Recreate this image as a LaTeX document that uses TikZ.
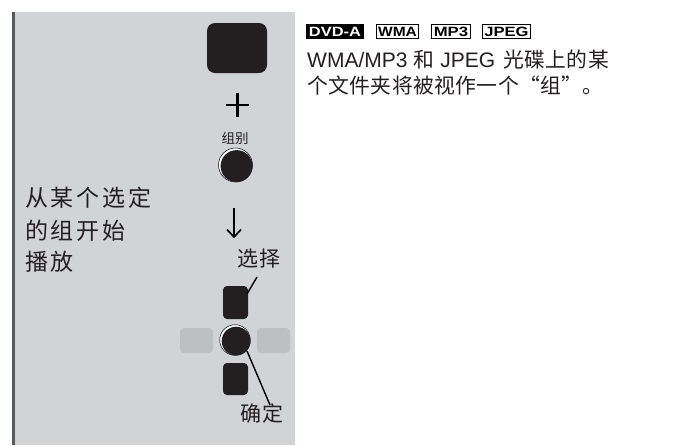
\documentclass[tikz,border=0pt]{standalone}
\usepackage{fontspec}
\setmainfont{Liberation Sans}
\newfontfamily\cjk{Noto Sans CJK SC}
\newfontfamily\cjkls{Noto Sans CJK SC}[LetterSpace=12]
\newfontfamily\cjkmid{Noto Sans CJK SC}[LetterSpace=8]
\newfontfamily\cjkr{Noto Sans CJK SC}[LetterSpace=2]
\definecolor{panel}{HTML}{D2D3D5}
\definecolor{sidebtn}{HTML}{BEBFC1}
\definecolor{btnblack}{HTML}{231F20}
\definecolor{edge}{HTML}{58595B}
\definecolor{txt}{HTML}{231F20}
\tikzset{
  blackbtn/.style={fill=btnblack, rounded corners=4pt},
  sidekey/.style={fill=sidebtn, rounded corners=4pt},
  badge/.style={draw=black, line width=1.5pt, fill=white, inner sep=0pt, minimum height=14pt, font=\fontsize{13.5}{13.5}\bfseries\selectfont, text=black},
  badgedark/.style={badge, fill=black, text=white},
  leader/.style={draw=black, line width=1.4pt},
  bodytext/.style={anchor=base west, inner sep=0pt, text=txt},
}
\begin{document}
\begin{tikzpicture}[x=1pt,y=-1pt]
\useasboundingbox (0,0) rectangle (682,445);
% panel
\fill[panel] (13,12) rectangle (295,445);
\draw[edge, line width=2.5pt] (13.5,12) -- (13.5,445);

% left caption
\node[bodytext] (l1) at (25,206) {\fontsize{23}{23}\cjkls 从某个选定};
\node[bodytext] (l2) at (25,239.5) {\fontsize{23}{23}\cjkls 的组开始};
\node[bodytext] (l3) at (25,270) {\fontsize{23}{23}\cjkls 播放};

% top black key
\fill[btnblack, rounded corners=8pt] (207,23) rectangle (267,73);
\node[inner sep=0pt] (topkey) at (237,48) {};

% plus
\draw[black, line width=2.2pt] (226,105) -- (249,105);
\draw[black, line width=2.2pt] (237.5,93) -- (237.5,117);
\coordinate (plus) at (237.5,105);

% group label and round button
\node[inner sep=0pt, text=txt] (grplabel) at (235,138) {\fontsize{13.5}{13.5}\cjk 组别};
\draw[black, line width=0.5pt, fill=white] (235.5,165) circle (17);
\fill[btnblack] (236.6,166.1) circle (16);
\node[circle, minimum size=34pt, inner sep=0pt] (grpbtn) at (235.5,165) {};

% down arrow
\coordinate (arrtop) at (234,208);
\coordinate (arrtip) at (234,237);
\draw[black, line width=1.7pt] (arrtop) -- (arrtip);
\draw[black, line width=1.7pt, line join=miter] (227,229.5) -- (arrtip) -- (241,229.5);

% select label
\node[bodytext] (sellabel) at (237,266) {\fontsize{21}{21}\cjkmid 选择};

% side grey keys
\fill[sidekey] (180,328) rectangle (213,353);
\fill[sidekey] (257,328) rectangle (290,353);

% top and bottom black keys
\fill[blackbtn] (223,286) rectangle (248,319);
\node[inner sep=0pt, minimum width=25pt, minimum height=33pt] (upkey) at (235.5,302.5) {};
\fill[blackbtn] (223,363) rectangle (248,395);
\node[inner sep=0pt, minimum width=25pt, minimum height=32pt] (downkey) at (235.5,379) {};

% centre round key
\draw[black, line width=0.5pt, fill=white] (235,340) circle (15.3);
\fill[btnblack] (236.1,341.1) circle (14.4);
\node[circle, minimum size=30pt, inner sep=0pt] (okbtn) at (235,340) {};

% enter label
\node[bodytext] (oklabel) at (240,421) {\fontsize{21}{21}\cjkmid 确定};

% leaders
\coordinate (selA) at (257,277);
\coordinate (selB) at (247,294);
\draw[leader] (selA) -- (selB);
\coordinate (okA) at (247,351);
\coordinate (okB) at (270,405);
\draw[leader] (okA) -- (okB);

% badges
\node[badgedark, minimum width=57pt] (bdvd) at (335,31.7) {\scalebox{1.22}[1]{DVD-A}};
\node[badge, minimum width=42pt] (bwma) at (397.5,31.7) {\scalebox{1.15}[1]{WMA}};
\node[badge, minimum width=39pt] (bmp3) at (451,31.7) {\scalebox{1.24}[1]{MP3}};
\node[badge, minimum width=48pt] (bjpeg) at (506.5,31.7) {\scalebox{1.23}[1]{JPEG}};

% description
\node[bodytext] (d1) at (307,67.5) {\fontsize{21}{21}\selectfont WMA/MP3\hspace{6pt}{\cjkr\fontsize{20.8}{21}\selectfont 和}\hspace{6pt}JPEG\hspace{8pt}{\cjkr\fontsize{20.8}{21}\selectfont 光碟上的某}};
\node[bodytext] (d2) at (307,93) {\fontsize{20.8}{21}\cjkr 个文件夹将被视作一个“组”。};
\end{tikzpicture}
\end{document}
